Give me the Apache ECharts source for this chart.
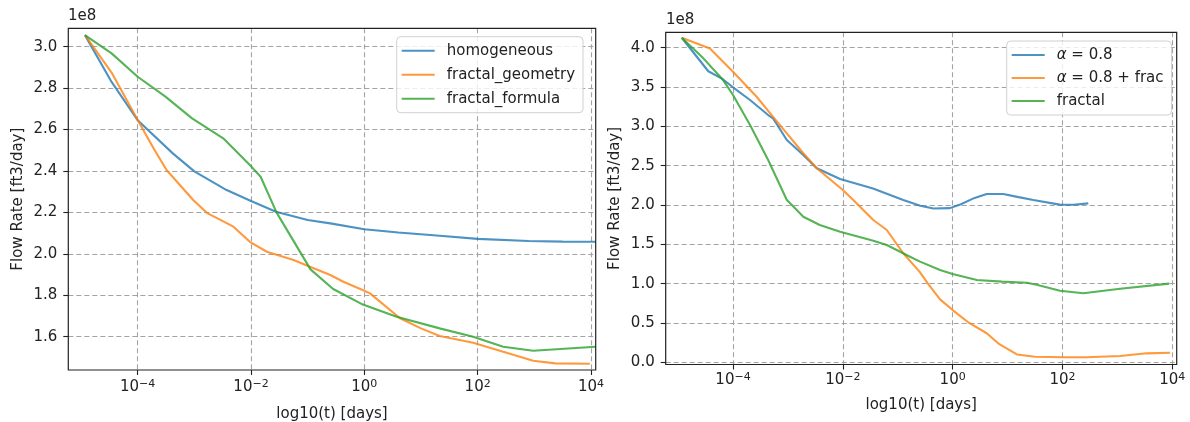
<!DOCTYPE html>
<html>
<head>
<meta charset="utf-8">
<script src="https://cdn.jsdelivr.net/npm/echarts@6/dist/echarts.min.js"></script>
<style>
    html, body { margin: 0; padding: 0; background: #fff; }
    #chart { width: 1190px; height: 422px; }
</style>
</head>
<body>
<div id="chart"></div>
<script>
// x values are log10(t) in days, y values are flow rate in units of 1e8 ft3/day

// left panel
const homogeneousT = [-4.93, -4.46, -4.0, -3.38, -3.0, -2.43, -2.0, -1.56, -1.0, -0.6, 0.0, 0.6, 1.33, 2.0, 2.9, 3.5, 4.08]
const homogeneousQ = [3.056, 2.83, 2.645, 2.485, 2.398, 2.308, 2.255, 2.203, 2.163, 2.147, 2.119, 2.103, 2.087, 2.072, 2.062, 2.059, 2.058]

const geometryT = [-4.93, -4.46, -4.0, -3.72, -3.49, -3.02, -2.78, -2.31, -2.02, -1.72, -1.25, -0.96, -0.6, -0.37, 0.0, 0.1, 0.63, 1.0, 1.33, 1.92, 2.45, 2.98, 3.37, 3.98]
const geometryQ = [3.056, 2.875, 2.646, 2.51, 2.405, 2.26, 2.198, 2.131, 2.058, 2.01, 1.97, 1.938, 1.898, 1.865, 1.822, 1.809, 1.689, 1.64, 1.603, 1.571, 1.527, 1.484, 1.471, 1.469]

const formulaT = [-4.93, -4.46, -4.0, -3.51, -3.04, -2.49, -1.99, -1.83, -1.55, -0.95, -0.55, -0.05, 0.57, 1.33, 1.92, 2.45, 2.98, 4.08]
const formulaQ = [3.056, 2.968, 2.855, 2.759, 2.654, 2.558, 2.42, 2.372, 2.2, 1.925, 1.83, 1.758, 1.696, 1.64, 1.600, 1.551, 1.532, 1.551]

// right panel
const alphaT = [-4.934, -4.45, -4.21, -4.0, -3.69, -3.36, -3.27, -3.02, -2.72, -2.475, -2.05, -1.45, -0.90, -0.59, -0.35, -0.05, 0.15, 0.40, 0.62, 0.92, 1.2, 1.47, 1.95, 2.2, 2.47]
const alphaQ = [4.126, 3.70, 3.61, 3.496, 3.334, 3.143, 3.10, 2.826, 2.635, 2.466, 2.33, 2.21, 2.063, 1.99, 1.955, 1.96, 2.01, 2.09, 2.139, 2.139, 2.10, 2.063, 2.004, 2.003, 2.02]

const alphaFracT = [-4.934, -4.42, -4.0, -3.57, -3.27, -3.02, -2.72, -2.475, -2.0, -1.81, -1.445, -1.2, -0.90, -0.6, -0.45, -0.23, 0.0, 0.3, 0.62, 0.85, 1.17, 1.5, 2.02, 2.44, 3.05, 3.53, 3.96]
const alphaFracQ = [4.126, 3.99, 3.694, 3.376, 3.12, 2.911, 2.657, 2.466, 2.19, 2.063, 1.809, 1.682, 1.386, 1.15, 1.0, 0.80, 0.664, 0.50, 0.369, 0.23, 0.10, 0.07, 0.064, 0.064, 0.08, 0.114, 0.122]

const fractalT = [-4.934, -4.54, -4.18, -4.0, -3.69, -3.36, -3.02, -2.96, -2.72, -2.42, -2.05, -1.445, -1.2, -0.84, -0.594, -0.23, 0.0, 0.44, 0.9, 1.35, 1.53, 1.955, 2.38, 3.05, 3.946]
const fractalQ = [4.126, 3.864, 3.588, 3.398, 3.016, 2.571, 2.063, 2.021, 1.851, 1.745, 1.66, 1.546, 1.491, 1.364, 1.28, 1.173, 1.122, 1.046, 1.025, 1.012, 0.985, 0.91, 0.877, 0.935, 1.0]

// tick positions
const decadeTicks = [-4, -2, 0, 2, 4]
const leftRateTicks = [1.6, 1.8, 2.0, 2.2, 2.4, 2.6, 2.8, 3.0]
const rightRateTicks = [0.0, 0.5, 1.0, 1.5, 2.0, 2.5, 3.0, 3.5, 4.0]

const leftNames = ['homogeneous', 'fractal_geometry', 'fractal_formula']
const rightNames = ['α = 0.8', 'α = 0.8 + frac', 'fractal']

const FONT = 'DejaVu Sans'
const INK = '#222'
const COLORS = ['#1f77b4', '#ff7f0e', '#2ca02c']
const gridLine = { color: '#a3a3a3', type: [5, 3], width: 1.1 }

const pairs = (xs, ys) => xs.map((x, i) => [x, ys[i]])

// matplotlib style 10^n tick labels
const powLabel = v => '{b|10}{s|' + (v < 0 ? '\u2212' : '') + Math.abs(v) + '}'

function xAxis(gridIndex, min, max, nameGap, margin){
    return {
        type: 'value', gridIndex, min, max,
        minInterval: 2, maxInterval: 2,
        name: 'log10(t) [days]', nameLocation: 'middle', nameGap,
        nameTextStyle: { fontFamily: FONT, fontSize: 15, color: INK },
        axisLine: { show: false, onZero: false },
        axisTick: { show: true, length: 5, customValues: decadeTicks, lineStyle: { color: INK, width: 1.1 } },
        axisLabel: {
            showMinLabel: false, showMaxLabel: false, margin,
            formatter: powLabel,
            rich: {
                b: { fontFamily: FONT, fontSize: 15, color: INK, lineHeight: 16, padding: [5, 0, 0, 0], verticalAlign: 'bottom' },
                s: { fontFamily: FONT, fontSize: 11, color: INK, lineHeight: 12, verticalAlign: 'top' }
            }
        },
        splitLine: { show: true, lineStyle: gridLine }
    }
}

function yAxis(gridIndex, min, max, step, ticks){
    return {
        type: 'value', gridIndex, min, max,
        minInterval: step, maxInterval: step,
        name: 'Flow Rate [ft3/day]', nameLocation: 'middle', nameGap: 43, nameRotate: 90,
        nameTextStyle: { fontFamily: FONT, fontSize: 15, color: INK },
        axisLine: { show: false, onZero: false },
        axisTick: { show: true, length: 5, customValues: ticks, lineStyle: { color: INK, width: 1.1 } },
        axisLabel: {
            showMinLabel: false, showMaxLabel: false, margin: 11,
            fontFamily: FONT, fontSize: 15, color: INK,
            formatter: v => v.toFixed(1)
        },
        splitLine: { show: true, lineStyle: gridLine }
    }
}

function line(name, idx, data, color){
    return {
        type: 'line', name, data, xAxisIndex: idx, yAxisIndex: idx,
        symbol: 'none', smooth: false,
        lineStyle: { color, width: 2.1, opacity: 0.8 },
        itemStyle: { color, opacity: 0.8 },
        emphasis: { disabled: true }
    }
}

function legend(names, left, top, itemGap){
    return {
        data: names, orient: 'vertical', left, top, z: 20,
        icon: 'rect', itemWidth: 33, itemHeight: 2, itemGap,
        padding: [5, 8, 5, 5],
        backgroundColor: 'rgba(255,255,255,0.8)',
        borderColor: '#d0d0d0', borderWidth: 1, borderRadius: 4,
        textStyle: {
            fontFamily: FONT, fontSize: 15, color: INK, lineHeight: 18,
            padding: [0, 0, 0, 7],
            rich: { i: { fontFamily: FONT, fontSize: 15, fontStyle: 'italic', color: INK } }
        },
        formatter: n => n.replace('α', '{i|α}'),
        selectedMode: false
    }
}

const chart = echarts.init(document.getElementById('chart'), null, { renderer: 'canvas' })

// grids sit above the axes so the solid frame covers the split lines at the edges
// outerBoundsMode none: keep the plot boxes where they are, labels may reach the page edge
chart.setOption({
    animation: false,
    backgroundColor: '#fff',
    title: [
        { text: '1e8', left: 68, top: 9, padding: 0, textStyle: { fontFamily: FONT, fontSize: 15, fontWeight: 'normal', color: INK } },
        { text: '1e8', left: 666, top: 13, padding: 0, textStyle: { fontFamily: FONT, fontSize: 15, fontWeight: 'normal', color: INK } }
    ],
    grid: [
        { left: 68.3, top: 28.3, width: 527.4, height: 341.7, z: 10, show: true, borderColor: INK, borderWidth: 1.2, backgroundColor: 'transparent', containLabel: false, outerBoundsMode: 'none' },
        { left: 665.7, top: 32.3, width: 511, height: 332.2, z: 10, show: true, borderColor: INK, borderWidth: 1.2, backgroundColor: 'transparent', containLabel: false, outerBoundsMode: 'none' }
    ],
    xAxis: [
        xAxis(0, -5.224, 4.083, 37, 9),
        xAxis(1, -5.226, 4.08, 33, 7)
    ],
    yAxis: [
        yAxis(0, 1.439, 3.089, 0.2, leftRateTicks),
        yAxis(1, -0.028, 4.195, 0.5, rightRateTicks)
    ],
    legend: [
        legend(leftNames, 396.7, 36.7, 6),
        legend(rightNames, 1006.7, 41, 5)
    ],
    series: [
        line(leftNames[0], 0, pairs(homogeneousT, homogeneousQ), COLORS[0]),
        line(leftNames[1], 0, pairs(geometryT, geometryQ), COLORS[1]),
        line(leftNames[2], 0, pairs(formulaT, formulaQ), COLORS[2]),
        line(rightNames[0], 1, pairs(alphaT, alphaQ), COLORS[0]),
        line(rightNames[1], 1, pairs(alphaFracT, alphaFracQ), COLORS[1]),
        line(rightNames[2], 1, pairs(fractalT, fractalQ), COLORS[2])
    ]
})
</script>
</body>
</html>
